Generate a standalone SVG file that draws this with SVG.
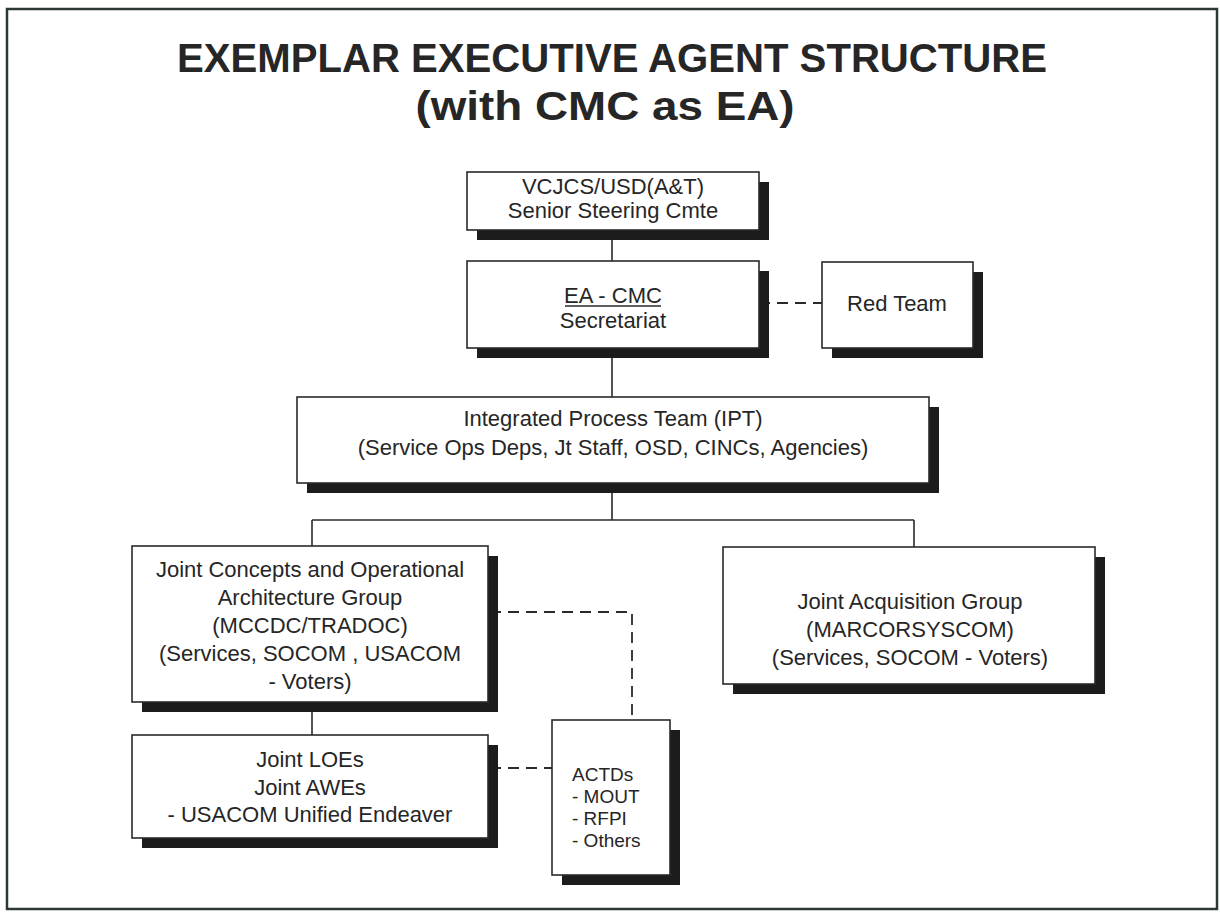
<svg xmlns="http://www.w3.org/2000/svg" width="1220" height="913" viewBox="0 0 1220 913">
<style>
.frame{fill:#fff;stroke:#2b3833;stroke-width:2.5}
.box{fill:#fff;stroke:#2a2a2a;stroke-width:1.6}
.sh{fill:#1c1c1c}
.t{font-family:"Liberation Sans",Arial,sans-serif;font-size:22px;fill:#262626;text-anchor:middle}
.tl{font-family:"Liberation Sans",Arial,sans-serif;font-size:19px;fill:#262626;text-anchor:start}
.title{font-family:"Liberation Sans",Arial,sans-serif;font-size:40px;font-weight:bold;fill:#262626;text-anchor:middle}
.ln{fill:none;stroke:#2a2a2a;stroke-width:1.6}
.dl{fill:none;stroke:#2a2a2a;stroke-width:1.8;stroke-dasharray:11 7}
</style>
<rect class="frame" x="7" y="9" width="1210" height="900"/>
<g id="title">
<text class="title" x="612" y="72" textLength="870" lengthAdjust="spacingAndGlyphs">EXEMPLAR EXECUTIVE AGENT STRUCTURE</text>
<text class="title" x="605" y="120" textLength="379" lengthAdjust="spacingAndGlyphs">(with CMC as EA)</text>
</g>
<g id="connectors">
<path class="ln" d="M612 230V261M612 348V397M612 483V520M312 520H914M312 520V546M914 520V547M312 702V735"/>
<path class="dl" d="M759 303H822"/>
<path class="dl" d="M490 612H632V720"/>
<path class="dl" d="M490 768H552"/>
</g>
<g id="n-vcjcs">
<rect class="sh" x="477" y="182" width="292" height="58"/>
<rect class="box" x="467" y="172" width="292" height="58"/>
<text class="t" x="613" y="194">VCJCS/USD(A&amp;T)</text>
<text class="t" x="613" y="218">Senior Steering Cmte</text>
</g>
<g id="n-eacmc">
<rect class="sh" x="477" y="271" width="292" height="87"/>
<rect class="box" x="467" y="261" width="292" height="87"/>
<text class="t" x="613" y="303">EA - CMC</text>
<path class="ln" d="M565 306H661" stroke-width="1.4"/>
<text class="t" x="613" y="328">Secretariat</text>
</g>
<g id="n-redteam">
<rect class="sh" x="832" y="272" width="151" height="86"/>
<rect class="box" x="822" y="262" width="151" height="86"/>
<text class="t" x="897" y="311">Red Team</text>
</g>
<g id="n-ipt">
<rect class="sh" x="307" y="407" width="632" height="86"/>
<rect class="box" x="297" y="397" width="632" height="86"/>
<text class="t" x="613" y="426">Integrated Process Team (IPT)</text>
<text class="t" x="613" y="455">(Service Ops Deps, Jt Staff, OSD, CINCs, Agencies)</text>
</g>
<g id="n-jcoag">
<rect class="sh" x="142" y="556" width="356" height="156"/>
<rect class="box" x="132" y="546" width="356" height="156"/>
<text class="t" x="310" y="577">Joint Concepts and Operational</text>
<text class="t" x="310" y="605">Architecture Group</text>
<text class="t" x="310" y="633">(MCCDC/TRADOC)</text>
<text class="t" x="310" y="661">(Services, SOCOM , USACOM</text>
<text class="t" x="310" y="689">- Voters)</text>
</g>
<g id="n-jag">
<rect class="sh" x="733" y="557" width="372" height="137"/>
<rect class="box" x="723" y="547" width="372" height="137"/>
<text class="t" x="910" y="609">Joint Acquisition Group</text>
<text class="t" x="910" y="637">(MARCORSYSCOM)</text>
<text class="t" x="910" y="665">(Services, SOCOM - Voters)</text>
</g>
<g id="n-loe">
<rect class="sh" x="142" y="745" width="356" height="103"/>
<rect class="box" x="132" y="735" width="356" height="103"/>
<text class="t" x="310" y="767">Joint LOEs</text>
<text class="t" x="310" y="795">Joint AWEs</text>
<text class="t" x="310" y="822">- USACOM Unified Endeaver</text>
</g>
<g id="n-actds">
<rect class="sh" x="562" y="730" width="118" height="155"/>
<rect class="box" x="552" y="720" width="118" height="155"/>
<text class="tl" x="572" y="781">ACTDs</text>
<text class="tl" x="572" y="803">- MOUT</text>
<text class="tl" x="572" y="825">- RFPI</text>
<text class="tl" x="572" y="847">- Others</text>
</g>
</svg>
